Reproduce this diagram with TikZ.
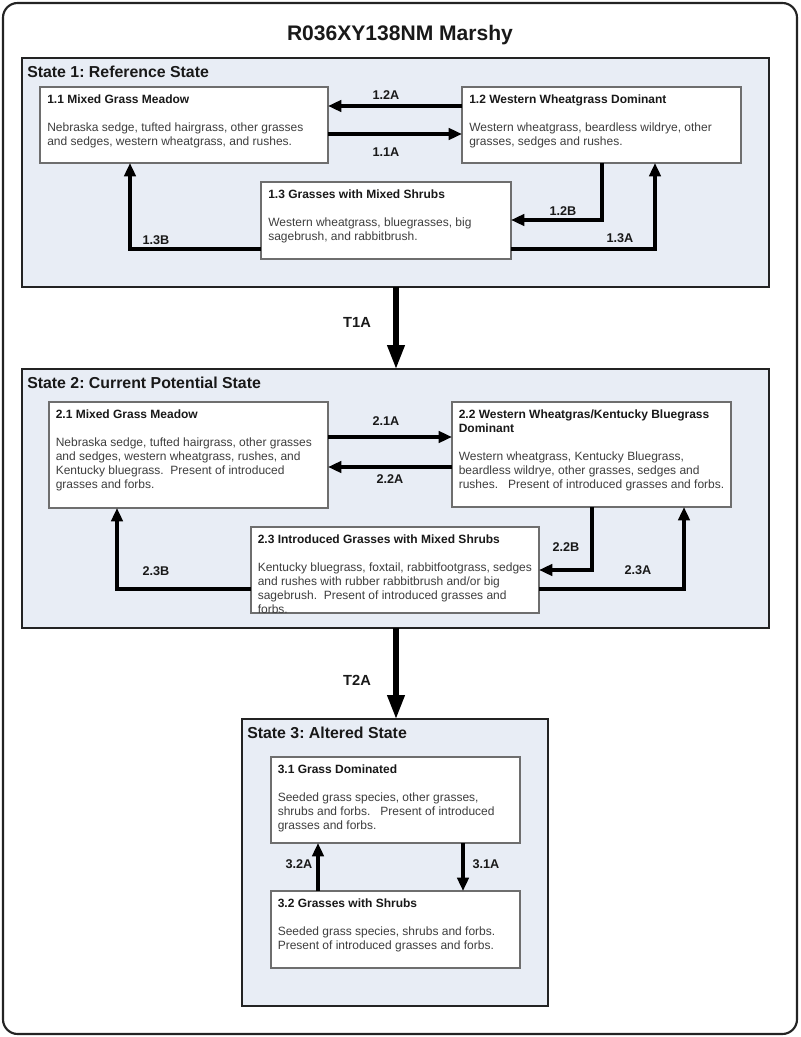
\documentclass[tikz,border=0pt]{standalone}
\usepackage{fontspec}
\setmainfont{Liberation Sans}
\frenchspacing
\usetikzlibrary{arrows.meta,fit,calc}
\definecolor{statefill}{RGB}{232,237,245}
\definecolor{bodytxt}{RGB}{62,62,62}
\definecolor{titletxt}{RGB}{25,25,25}
\definecolor{edgec}{RGB}{35,35,35}
\definecolor{boxedge}{RGB}{110,110,110}
\tikzset{
  frame/.style={draw=edgec, line width=1.6pt, rounded corners=11pt, inner sep=0, outer sep=0},
  statebox/.style={draw=edgec, line width=1.5pt, fill=statefill, inner sep=0, outer sep=0},
  cbox/.style={draw=boxedge, line width=0.8pt, fill=white, inner sep=0, outer sep=0},
  boxtext/.style={anchor=north west, inner sep=0, align=left, text=bodytxt, font=\fontsize{9}{10.5}\selectfont},
  arr/.style={line width=2.5pt, draw=black, -{Triangle[length=10pt,width=8.5pt]}},
  bigarr/.style={line width=3.8pt, draw=black, -{Triangle[length=18pt,width=12.5pt]}},
  lbl/.style={font=\bfseries\fontsize{9.5}{11}\selectfont, inner sep=0, text=titletxt},
  tlbl/.style={font=\bfseries\fontsize{11}{13}\selectfont, inner sep=0, text=titletxt},
  stitle/.style={anchor=west, font=\bfseries\fontsize{11.9}{14}\selectfont, inner sep=0, text=titletxt},
}
\newcommand{\bt}[1]{{\color{titletxt}\bfseries #1}}
\begin{document}
\begin{tikzpicture}[x=0.75pt,y=-0.75pt]
\useasboundingbox (0,0) rectangle (800,1037);
\node[frame, fit={(3,3) (797,1034)}] (frame) {};
\node[font=\bfseries\fontsize{15.8}{18}\selectfont, text=titletxt] (title) at (400,35) {R036XY138NM Marshy};

% ---------- State 1 ----------
\node[statebox, fit={(22,58) (769,287)}] (s1) {};
\node[stitle] (s1t) at (27,72) {State 1: Reference State};
\node[cbox, fit={(40,87) (328,163)}] (b11) {};
\node[cbox, fit={(462,87) (741,163)}] (b12) {};
\node[cbox, fit={(261,182) (511,259)}] (b13) {};
\node[boxtext] (t11) at ($(b11.north west)+(7,8)$) {\bt{1.1 Mixed Grass Meadow}\\[10.5pt]Nebraska sedge, tufted hairgrass, other grasses\\and sedges, western wheatgrass, and rushes.};
\node[boxtext] (t12) at ($(b12.north west)+(7,8)$) {\bt{1.2 Western Wheatgrass Dominant}\\[10.5pt]Western wheatgrass, beardless wildrye, other\\grasses, sedges and rushes.};
\node[boxtext] (t13) at ($(b13.north west)+(7,8)$) {\bt{1.3 Grasses with Mixed Shrubs}\\[10.5pt]Western wheatgrass, bluegrasses, big\\sagebrush, and rabbitbrush.};

\draw[arr] (b12.west |- 0,106) -- (b11.east |- 0,106);
\draw[arr] (b11.east |- 0,134) -- (b12.west |- 0,134);
\draw[arr] (b12.south -| 602,0) |- (b13.east |- 0,220);
\draw[arr] (b13.east |- 0,249) -| (b12.south -| 655,0);
\draw[arr] (b13.west |- 0,249) -| (b11.south -| 130,0);
\node[lbl] (l12a) at (386,95) {1.2A};
\node[lbl] (l11a) at (386,152) {1.1A};
\node[lbl] (l12b) at (563,211) {1.2B};
\node[lbl] (l13a) at (620,238) {1.3A};
\node[lbl] (l13b) at (156,240) {1.3B};

% ---------- State 2 ----------
\node[statebox, fit={(22,369) (769,628)}] (s2) {};
\node[stitle] (s2t) at (27,383) {State 2: Current Potential State};
\node[cbox, fit={(49,402) (328,508)}] (b21) {};
\node[cbox, fit={(452,402) (731,507)}] (b22) {};
\node[cbox, fit={(251,527) (539,613)}] (b23) {};
\node[boxtext] (t21) at ($(b21.north west)+(6.5,8)$) {\bt{2.1 Mixed Grass Meadow}\\[10.5pt]Nebraska sedge, tufted hairgrass, other grasses\\and sedges, western wheatgrass, rushes, and\\Kentucky bluegrass.~~Present of introduced\\grasses and forbs.};
\node[boxtext] (t22) at ($(b22.north west)+(6.5,8)$) {\bt{2.2 Western Wheatgras/Kentucky Bluegrass}\\\bt{Dominant}\\[10.5pt]Western wheatgrass, Kentucky Bluegrass,\\beardless wildrye, other grasses, sedges and\\rushes.~~~Present of introduced grasses and forbs.};
\node[boxtext] (t23) at ($(b23.north west)+(6.5,8)$) {\bt{2.3 Introduced Grasses with Mixed Shrubs}\\[10.5pt]Kentucky bluegrass, foxtail, rabbitfootgrass, sedges\\and rushes with rubber rabbitbrush and/or big\\sagebrush.~~Present of introduced grasses and\\forbs.};

\draw[arr] (b21.east |- 0,437) -- (b22.west |- 0,437);
\draw[arr] (b22.west |- 0,467) -- (b21.east |- 0,467);
\draw[arr] (b22.south -| 592,0) |- (b23.east |- 0,570);
\draw[arr] (b23.east |- 0,589) -| (b22.south -| 684,0);
\draw[arr] (b23.west |- 0,589) -| (b21.south -| 117,0);
\node[lbl] (l21a) at (386,421) {2.1A};
\node[lbl] (l22a) at (390,479) {2.2A};
\node[lbl] (l22b) at (566,547) {2.2B};
\node[lbl] (l23a) at (638,570) {2.3A};
\node[lbl] (l23b) at (156,571) {2.3B};

% ---------- State 3 ----------
\node[statebox, fit={(242,719) (548,1006)}] (s3) {};
\node[stitle] (s3t) at (247,733) {State 3: Altered State};
\node[cbox, fit={(271,757) (520,843)}] (b31) {};
\node[cbox, fit={(271,891) (520,968)}] (b32) {};
\node[boxtext] (t31) at ($(b31.north west)+(6.5,8)$) {\bt{3.1 Grass Dominated}\\[10.5pt]Seeded grass species, other grasses,\\shrubs and forbs.~~~Present of introduced\\grasses and forbs.};
\node[boxtext] (t32) at ($(b32.north west)+(6.5,8)$) {\bt{3.2 Grasses with Shrubs}\\[10.5pt]Seeded grass species, shrubs and forbs.\\Present of introduced grasses and forbs.};

\draw[arr] (b32.north -| 318,0) -- (b31.south -| 318,0);
\draw[arr] (b31.south -| 463,0) -- (b32.north -| 463,0);
\node[lbl] (l32a) at (299,864) {3.2A};
\node[lbl] (l31a) at (486,864) {3.1A};

% ---------- Transitions ----------
\draw[bigarr] (s1.south -| 396,0) -- (s2.north -| 396,0);
\draw[bigarr] (s2.south -| 396,0) -- (s3.north -| 396,0);
\node[tlbl] (t1a) at (357,322) {T1A};
\node[tlbl] (t2a) at (357,680) {T2A};
\end{tikzpicture}
\end{document}
